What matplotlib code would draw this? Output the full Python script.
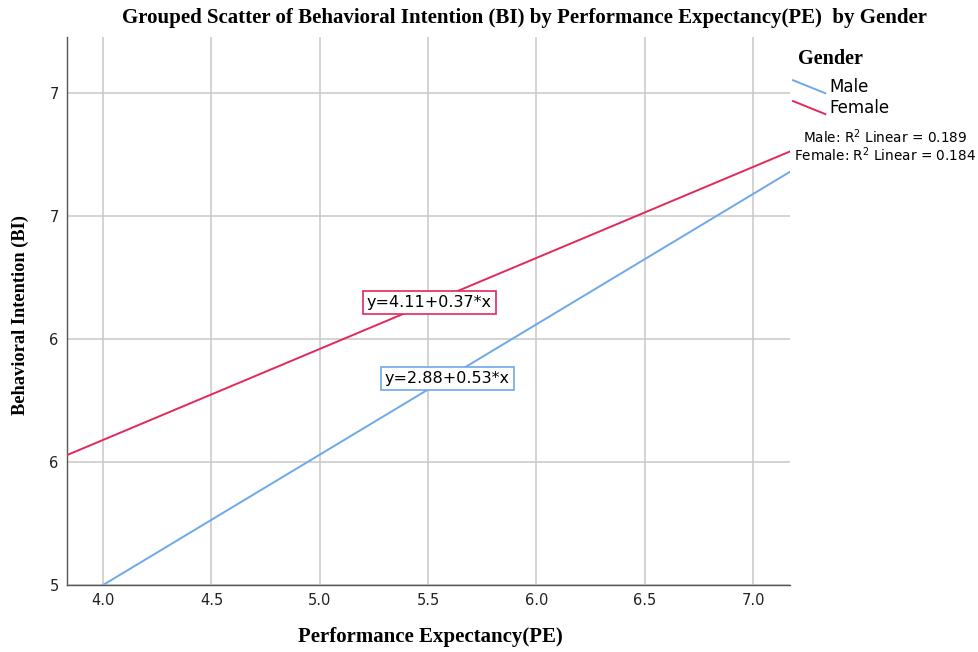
import matplotlib.pyplot as plt
from matplotlib.lines import Line2D
import numpy as np

# fit lines
groups = ["Male", "Female"]
intercepts = [2.88, 4.11]
slopes = [0.53, 0.37]
r2 = [0.189, 0.184]
colors = ["#6fa8e8", "#e3285c"]

x_ticks = [4.0, 4.5, 5.0, 5.5, 6.0, 6.5, 7.0]
y_ticks = [5.0, 5.5, 6.0, 6.5, 7.0]
y_tick_labels = ["5", "6", "6", "7", "7"]

fig = plt.figure(figsize=(9.79, 6.52), dpi=100)
ax = fig.add_axes([0.0684, 0.1028, 0.7386, 0.8402])

xlim = (3.833, 7.171)
ylim = (5.0, 7.228)
xs = np.array(xlim)
for i, g in enumerate(groups):
    ax.plot(xs, intercepts[i] + slopes[i] * xs, color=colors[i], lw=1.4, zorder=3)

ax.set_xlim(*xlim)
ax.set_ylim(*ylim)
ax.set_xticks(x_ticks)
ax.set_xticklabels([f"{v:.1f}" for v in x_ticks])
ax.set_yticks(y_ticks)
ax.set_yticklabels(y_tick_labels)
ax.tick_params(length=0, labelsize=10.5, colors="#222222", pad=6)
ax.grid(True, color="#c8c8c8", lw=1.1)
ax.set_axisbelow(True)
for s in ["top", "right"]:
    ax.spines[s].set_visible(False)
for s in ["left", "bottom"]:
    ax.spines[s].set_color("#555555")
    ax.spines[s].set_linewidth(1.0)

# equation boxes
eq_pos = [(5.588, 5.84), (5.505, 6.15)]
for i, g in enumerate(groups):
    ax.text(eq_pos[i][0], eq_pos[i][1], f"y={intercepts[i]:.2f}+{slopes[i]:.2f}*x",
            ha="center", va="center", fontsize=11.5, zorder=5,
            bbox=dict(boxstyle="square,pad=0.25", fc="white", ec=colors[i], lw=1.2))

serif = ["Liberation Serif", "DejaVu Serif"]
fig.text(0.536, 0.972, "Grouped Scatter of Behavioral Intention (BI) by Performance Expectancy(PE)  by Gender",
         ha="center", va="center", fontsize=15, fontweight="bold", family=serif)
fig.text(0.440, 0.023, "Performance Expectancy(PE)", ha="center", va="center",
         fontsize=15, fontweight="bold", family=serif)
fig.text(0.021, 0.517, "Behavioral Intention (BI)", ha="center", va="center", rotation=90,
         fontsize=13.2, fontweight="bold", family=serif)

# legend drawn by hand (diagonal handles)
fig.text(0.848, 0.910, "Gender", ha="center", va="center", fontsize=14.5,
         fontweight="bold", family=serif)
leg_y = [0.867, 0.835]
for i, g in enumerate(groups):
    fig.add_artist(Line2D([0.810, 0.843], [leg_y[i] + 0.010, leg_y[i] - 0.010],
                          color=colors[i], lw=1.4, transform=fig.transFigure))
    fig.text(0.847, leg_y[i], g, ha="left", va="center", fontsize=12)
for i, g in enumerate(groups):
    fig.text(0.904, 0.791 - i * 0.028, f"{g}: R$^2$ Linear = {r2[i]:.3f}",
             ha="center", va="center", fontsize=9.8)

fig.savefig("out.png", dpi=100)
